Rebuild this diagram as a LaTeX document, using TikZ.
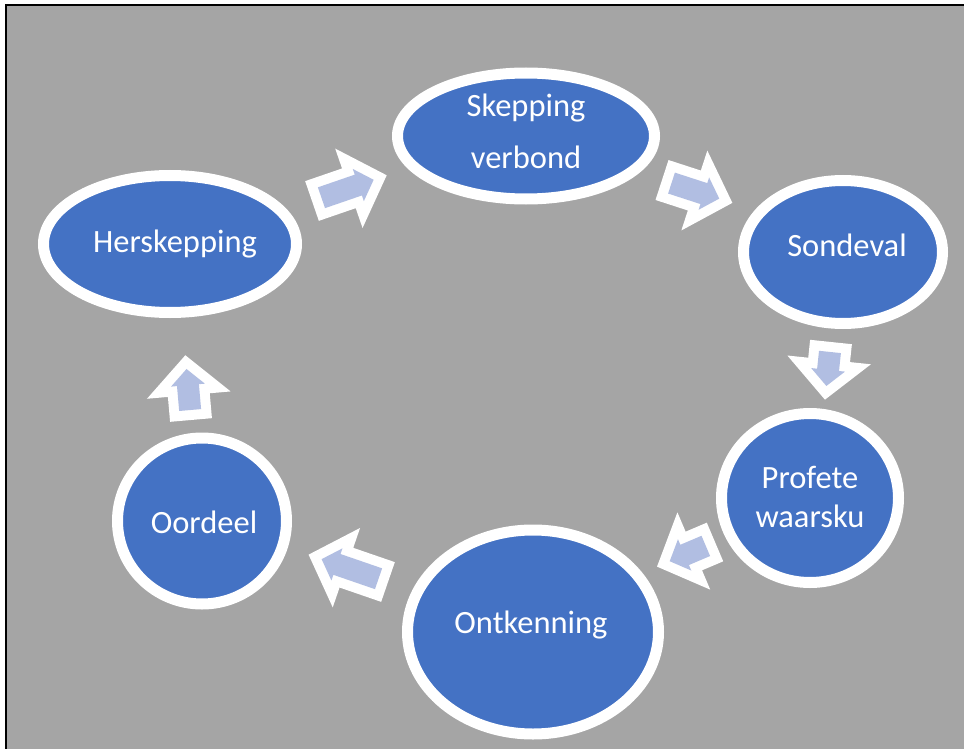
\documentclass[tikz,border=0pt]{standalone}
\usepackage{fontspec}
\setmainfont{Carlito}
\usetikzlibrary{shapes.geometric}
\definecolor{bggray}{RGB}{165,165,165}
\definecolor{bubblue}{RGB}{68,114,196}
\definecolor{arrowblue}{RGB}{177,190,226}
\tikzset{
  bub/.style={ellipse, draw=white, line width=11pt, fill=bubblue, inner sep=0pt},
  txt/.style={text=white, inner sep=0pt, align=center, font=\fontsize{32.5}{40}\selectfont},
}
% #1 tail point, #2 page angle, #3 length
\newcommand\blockarr[3]{%
  \begin{scope}[shift={#1},rotate=#2]
    \fill[white] (0,21) -- ({#3-40},21) -- ({#3-40},42) -- (#3,0) -- ({#3-40},-42) -- ({#3-40},-21) -- (0,-21) -- cycle;
    \fill[arrowblue] (10,11) -- ({#3-30},11) -- ({#3-30},17) -- ({#3-13.8},0) -- ({#3-30},-17) -- ({#3-30},-11) -- (10,-11) -- cycle;
  \end{scope}}
\begin{document}
\begin{tikzpicture}[x=1pt,y=-1pt]
  \useasboundingbox (0,0) rectangle (964,749);
  \fill[white] (0,0) rectangle (964,749);
  \fill[bggray] (6,5) rectangle (964,749);
  \draw[black, line width=2.5pt] (6,749) -- (6,5) -- (964,5);
  % bubbles
  \node[bub, minimum width=253, minimum height=137] (hersk) at (170,244) {};
  \node[bub, minimum width=257, minimum height=126] (skep) at (526,136) {};
  \node[bub, minimum width=199, minimum height=143] (sond) at (843,252) {};
  \node[bub, minimum width=177, minimum height=169] (prof) at (810,498) {};
  \node[bub, minimum width=251, minimum height=204] (ontk) at (533,632) {};
  \node[bub, minimum width=169, minimum height=166] (oord) at (202,521) {};
  % texts
  \node[txt] (herskt) at (175,244) {Herskepping};
  \node[txt, font=\fontsize{32.5}{52}\selectfont] (skept) at (526,131) {Skepping\\verbond};
  \node[txt] (sondt) at (847,245) {Sondeval};
  \node[txt, font=\fontsize{32.5}{39}\selectfont] (proft) at (810,497) {Profete\\waarsku};
  \node[txt] (ontkt) at (531,625) {Ontkenning};
  \node[txt] (oordt) at (204,522) {Oordeel};
  % block arrows
  \blockarr{(312,201)}{19}{79}
  \blockarr{(662,180)}{-18}{74}
  \blockarr{(831,342)}{-96}{58}
  \blockarr{(715,542)}{-157}{63}
  \blockarr{(388,582)}{-199}{84}
  \blockarr{(191,420)}{95}{65}
\end{tikzpicture}
\end{document}
